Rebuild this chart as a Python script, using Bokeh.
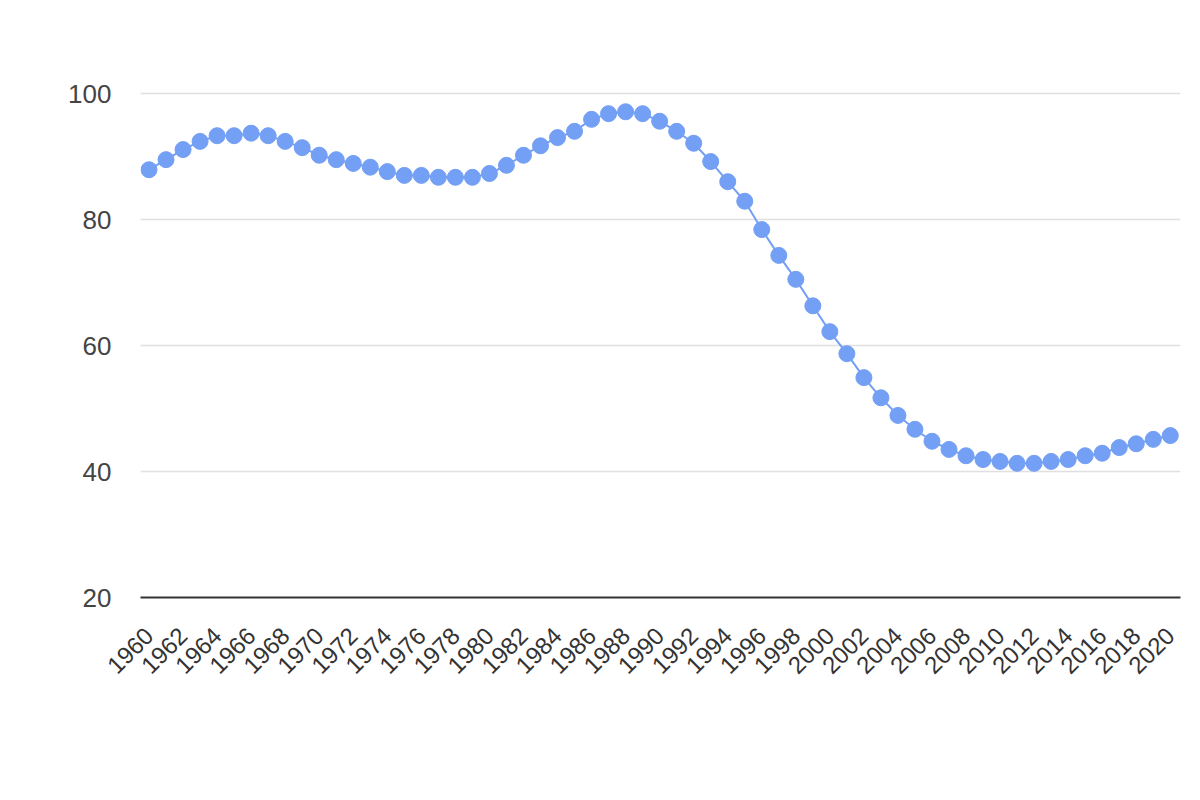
import math
from bokeh.plotting import figure
from bokeh.models import ColumnDataSource, Range1d, FixedTicker
from bokeh.embed import file_html
from bokeh.resources import INLINE

years = list(range(1960, 2021))
values = [
    87.9, 89.5, 91.1, 92.4, 93.3, 93.3, 93.7, 93.3, 92.4, 91.4,
    90.2, 89.5, 88.9, 88.3, 87.6, 87.0, 87.0, 86.7, 86.7, 86.7,
    87.3, 88.6, 90.2, 91.7, 93.0, 94.0, 95.9, 96.8, 97.1, 96.8,
    95.6, 94.0, 92.1, 89.2, 86.0, 82.9, 78.4, 74.3, 70.5, 66.3,
    62.2, 58.7, 54.9, 51.7, 48.9, 46.7, 44.8, 43.5, 42.5, 41.9,
    41.6, 41.3, 41.3, 41.6, 41.9, 42.5, 42.9, 43.8, 44.4, 45.1,
    45.7,
]
x_ticks = list(range(1960, 2021, 2))
y_ticks = [20, 40, 60, 80, 100]

src = ColumnDataSource(dict(x=years, y=values))

FONT = "Liberation Sans"
COLOR = "#739ff4"

p = figure(
    frame_width=1040, frame_height=567,
    x_range=Range1d(1959.5, 2020.6), y_range=Range1d(20, 110),
    output_backend="svg", toolbar_location=None,
    min_border_left=140, min_border_right=12,
    min_border_top=30, min_border_bottom=100,
)
p.outline_line_color = None
p.background_fill_color = "white"
p.border_fill_color = "white"

p.line("x", "y", source=src, line_color=COLOR, line_width=2)
p.scatter("x", "y", source=src, size=16, fill_color=COLOR, line_color=COLOR)

# x axis
xa = p.xaxis[0]
xa.ticker = FixedTicker(ticks=x_ticks)
xa.major_label_orientation = math.pi / 4
xa.major_label_text_font = FONT
xa.major_label_text_font_size = "24px"
xa.major_label_text_color = "#333333"
xa.major_tick_line_color = None
xa.minor_tick_line_color = None
xa.axis_line_color = "#333333"
xa.axis_line_width = 2
xa.major_label_standoff = 28

# y axis
ya = p.yaxis[0]
ya.ticker = FixedTicker(ticks=y_ticks)
ya.major_label_text_font = FONT
ya.major_label_text_font_size = "26px"
ya.major_label_text_color = "#444444"
ya.major_tick_line_color = None
ya.minor_tick_line_color = None
ya.axis_line_color = None
ya.major_label_standoff = 23

p.xgrid.grid_line_color = None
p.ygrid.ticker = FixedTicker(ticks=[40, 60, 80, 100])
p.ygrid.grid_line_color = "#e0e0e0"
p.ygrid.grid_line_width = 1.5

open("out.html", "w").write(file_html(p, INLINE))
